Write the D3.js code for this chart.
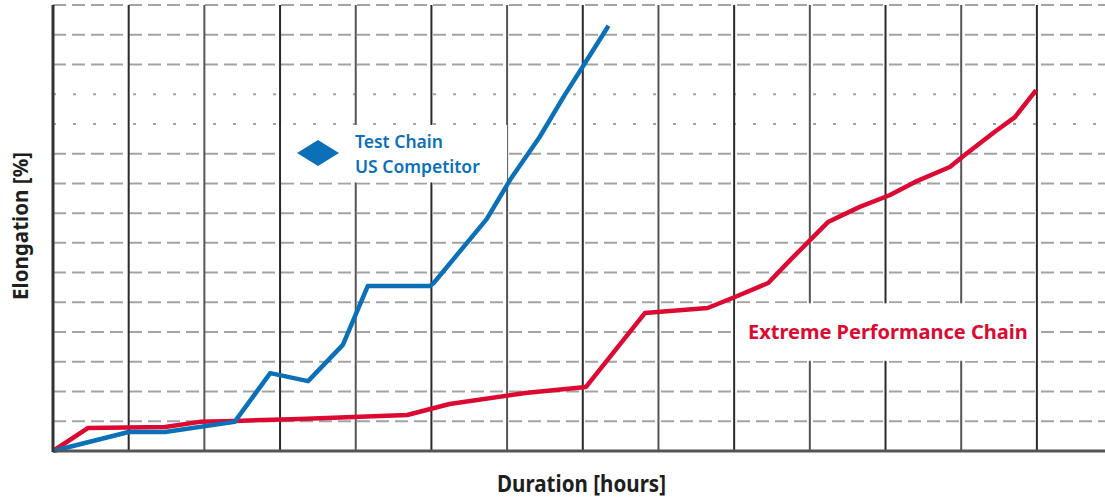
<!DOCTYPE html>
<html>
<head>
<meta charset="utf-8">
<script src="https://cdn.jsdelivr.net/npm/d3@7"></script>
<style>
  body { margin: 0; background: #fff; }
  svg { display: block; }
</style>
</head>
<body>
<svg id="chart" width="1105" height="498"></svg>
<script>
// values (x in grid columns, y in grid rows)
var blueHours = [0, 1.00, 1.48, 2.40, 2.87, 3.37, 3.83, 4.16, 4.98, 5.03, 5.73, 6.04, 6.43, 6.76, 7.03, 7.34];
var blueElong = [0, 0.64, 0.64, 0.98, 2.62, 2.35, 3.57, 5.55, 5.55, 5.65, 7.80, 9.12, 10.56, 11.97, 13.05, 14.30];

var redHours = [0, 0.46, 1.48, 1.94, 2.40, 3.26, 4.68, 5.24, 6.24, 7.04, 7.82, 8.65, 9.01, 9.45, 9.74, 10.24, 10.66, 11.06, 11.39, 11.85, 12.05, 12.44, 12.71, 12.99];
var redElong = [0, 0.77, 0.81, 0.98, 1.01, 1.08, 1.21, 1.58, 1.95, 2.15, 4.64, 4.81, 5.18, 5.65, 6.42, 7.70, 8.21, 8.61, 9.05, 9.55, 9.96, 10.73, 11.23, 12.14];

var xTicks = d3.range(0, 14);
var yTicks = d3.range(0, 16);
var dottedRows = [11, 12];

var blueName = ['Test Chain', 'US Competitor'];
var redName = 'Extreme Performance Chain';

var blue = '#0b70b7';
var red = '#dc0a32';

var svg = d3.select('#chart');

var x = d3.scaleLinear()
  .domain([0, 13.9])
  .range([53, 1105]);

var y = d3.scaleLinear()
  .domain([0, 15])
  .range([451, 5]);

// horizontal dashed grid
svg.append('g')
  .selectAll('line')
  .data(yTicks.filter(function(d) { return d > 0; }))
  .enter()
  .append('line')
    .attr('x1', x(0))
    .attr('x2', 1105)
    .attr('y1', function(d) { return y(d); })
    .attr('y2', function(d) { return y(d); })
    .attr('stroke', '#a3a3a3')
    .attr('stroke-width', 2)
    .attr('stroke-dasharray', function(d) {
      return dottedRows.indexOf(d) >= 0 ? '3,17' : '13,6';
    });

// vertical grid
svg.append('g')
  .selectAll('line')
  .data(xTicks.filter(function(d) { return d > 0; }))
  .enter()
  .append('line')
    .attr('x1', function(d) { return x(d); })
    .attr('x2', function(d) { return x(d); })
    .attr('y1', y(15))
    .attr('y2', y(0))
    .attr('stroke', function(d) { return d % 2 ? '#2a2a2a' : '#555'; })
    .attr('stroke-width', 2);

// label boxes
svg.append('rect')
  .attr('x', x(3) + 1)
  .attr('y', y(11) + 1)
  .attr('width', x(6) - x(3) - 1)
  .attr('height', y(9) - y(11) - 2)
  .attr('fill', '#fff');

svg.append('rect')
  .attr('x', x(9) + 1)
  .attr('y', y(5) + 1)
  .attr('width', x(13) - x(9) - 2)
  .attr('height', y(3) - y(5) - 2)
  .attr('fill', '#fff');

// series
var line = d3.line()
  .x(function(d) { return x(d[0]); })
  .y(function(d) { return y(d[1]); });

svg.append('path')
  .datum(d3.zip(redHours, redElong))
  .attr('d', line)
  .attr('fill', 'none')
  .attr('stroke', red)
  .attr('stroke-width', 4.5)
  .attr('stroke-linejoin', 'round');

svg.append('path')
  .datum(d3.zip(blueHours, blueElong))
  .attr('d', line)
  .attr('fill', 'none')
  .attr('stroke', blue)
  .attr('stroke-width', 4.5)
  .attr('stroke-linejoin', 'round');

// axes lines
svg.append('line')
  .attr('x1', x(0)).attr('x2', 1105)
  .attr('y1', y(0)).attr('y2', y(0))
  .attr('stroke', '#555')
  .attr('stroke-width', 3);

svg.append('line')
  .attr('x1', x(0)).attr('x2', x(0))
  .attr('y1', y(15)).attr('y2', y(0) + 1)
  .attr('stroke', '#333')
  .attr('stroke-width', 3);

// legend: diamond + blue text
svg.append('path')
  .attr('d', 'M297,153 L318,140 L339,153 L318,166 Z')
  .attr('fill', blue);

svg.append('text')
  .attr('x', 355)
  .attr('y', 148)
  .attr('fill', blue)
  .style('font-family', 'Noto Sans')
  .style('font-weight', 600)
  .style('font-size', '17.5px')
  .text(blueName[0]);

svg.append('text')
  .attr('x', 355)
  .attr('y', 173)
  .attr('fill', blue)
  .style('font-family', 'Noto Sans')
  .style('font-weight', 600)
  .style('font-size', '17.5px')
  .text(blueName[1]);

svg.append('text')
  .attr('x', 748)
  .attr('y', 339)
  .attr('fill', red)
  .style('font-family', 'Noto Sans')
  .style('font-weight', 700)
  .style('font-size', '20px')
  .text(redName);

// axis titles
svg.append('text')
  .attr('x', 497)
  .attr('y', 492)
  .attr('textLength', 169)
  .attr('lengthAdjust', 'spacingAndGlyphs')
  .attr('fill', '#1e1e1e')
  .style('font-family', 'Noto Sans')
  .style('font-weight', 700)
  .style('font-size', '23px')
  .text('Duration [hours]');

svg.append('text')
  .attr('transform', 'translate(28,300) rotate(-90)')
  .attr('textLength', 148)
  .attr('lengthAdjust', 'spacingAndGlyphs')
  .attr('fill', '#1e1e1e')
  .style('font-family', 'Noto Sans')
  .style('font-weight', 700)
  .style('font-size', '21px')
  .text('Elongation [%]');
</script>
</body>
</html>
